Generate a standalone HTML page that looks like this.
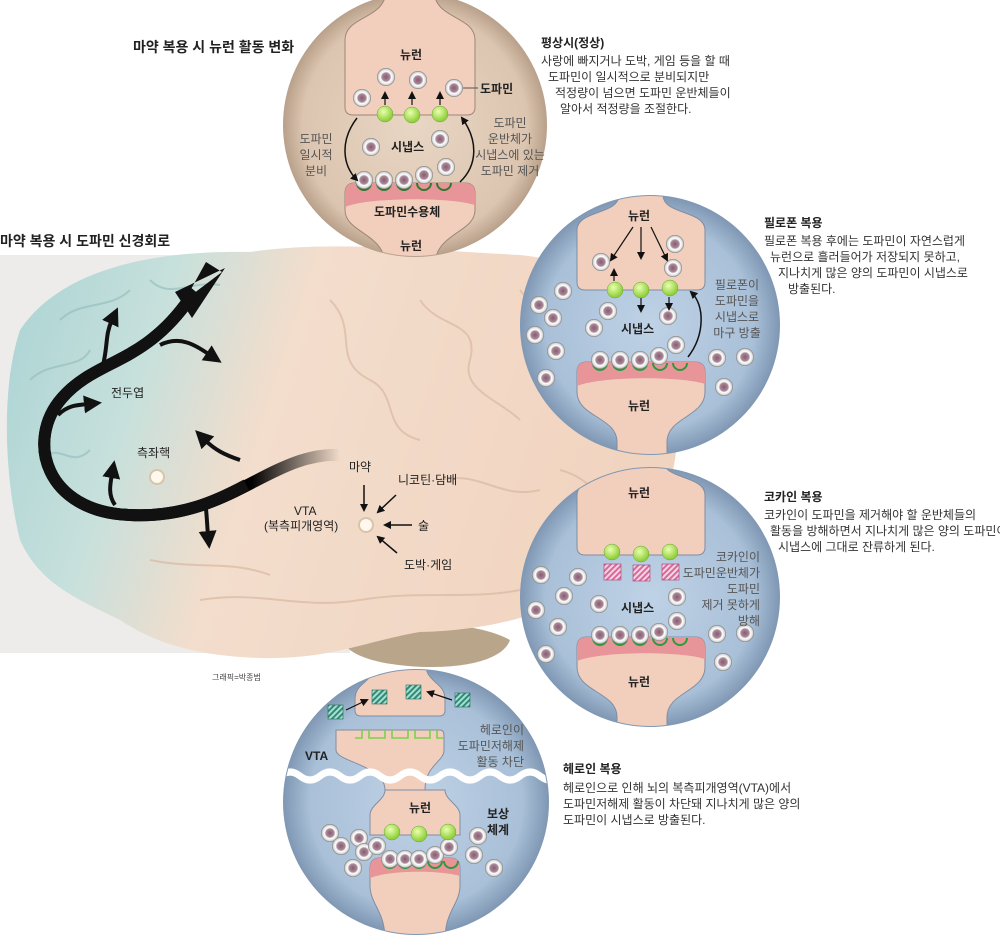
<!DOCTYPE html>
<html><head><meta charset="utf-8"><style>
html,body{margin:0;padding:0;background:#fff;}
svg{display:block;font-family:"Liberation Sans","Noto Sans CJK KR",sans-serif;}
.t{font-size:12px;fill:#333;}
.b{font-weight:bold;fill:#222;}
.g{font-size:12px;fill:#555;}
</style></head><body>
<svg width="1000" height="937" viewBox="0 0 1000 937" xmlns="http://www.w3.org/2000/svg">
<defs>
<radialGradient id="ves" cx="50%" cy="50%" r="50%">
<stop offset="0" stop-color="#8a5a70"/><stop offset="0.45" stop-color="#a88a98"/><stop offset="0.6" stop-color="#fff"/><stop offset="0.85" stop-color="#ddd"/><stop offset="1" stop-color="#777"/></radialGradient>
<radialGradient id="grn" cx="40%" cy="35%" r="60%"><stop offset="0" stop-color="#eaffb0"/><stop offset="1" stop-color="#8fcf3a"/></radialGradient>
<radialGradient id="blue" cx="50%" cy="50%" r="50%"><stop offset="0" stop-color="#bfd2e6"/><stop offset="0.8" stop-color="#a9c0d8"/><stop offset="1" stop-color="#7f97b3"/></radialGradient>
<radialGradient id="beige" cx="50%" cy="50%" r="50%"><stop offset="0" stop-color="#e8d6c4"/><stop offset="0.85" stop-color="#dcc5b0"/><stop offset="1" stop-color="#b8a08a"/></radialGradient>
<linearGradient id="brain" x1="0" y1="0" x2="1" y2="0.2"><stop offset="0" stop-color="#a9d3d3"/><stop offset="0.25" stop-color="#c7e0dc"/><stop offset="0.45" stop-color="#f3ddcc"/><stop offset="1" stop-color="#f1d4c0"/></linearGradient>
<linearGradient id="fade" x1="1" y1="0" x2="0" y2="0"><stop offset="0" stop-color="#000" stop-opacity="0"/><stop offset="0.3" stop-color="#000"/><stop offset="1" stop-color="#000"/></linearGradient>
<pattern id="hatchP" width="4" height="4" patternUnits="userSpaceOnUse" patternTransform="rotate(45)"><rect width="4" height="4" fill="#d76a9a"/><rect width="2" height="4" fill="#f5d5e4"/></pattern>
<pattern id="hatchG" width="4" height="4" patternUnits="userSpaceOnUse" patternTransform="rotate(45)"><rect width="4" height="4" fill="#2f8a7a"/><rect width="2" height="4" fill="#a8e0cf"/></pattern>
<g id="v"><circle r="9" fill="url(#ves)"/></g>
<g id="gb"><circle r="8" fill="url(#grn)" stroke="#6fa43a" stroke-width="0.5"/></g>
<marker id="ah" markerWidth="8" markerHeight="8" refX="6" refY="4" orient="auto" markerUnits="userSpaceOnUse"><path d="M0,0 L8,4 L0,8 Z" fill="#111"/></marker>
<marker id="bh" markerWidth="18" markerHeight="18" refX="4" refY="9" orient="auto" markerUnits="userSpaceOnUse"><path d="M0,0 L18,9 L0,18 Z" fill="#111"/></marker>
<clipPath id="c1"><circle cx="415" cy="125" r="131"/></clipPath>
<clipPath id="c2"><circle cx="650" cy="325" r="129"/></clipPath>
<clipPath id="c3"><circle cx="650" cy="597" r="129"/></clipPath>
<clipPath id="c4"><circle cx="416" cy="802" r="132"/></clipPath>
</defs>

<!-- brain background -->
<rect x="0" y="255" width="350" height="398" fill="#eeeceb"/>
<path d="M340,630 C380,620 470,618 510,640 C500,668 430,672 380,662 C350,655 340,645 340,630Z" fill="#b9a58a"/>
<path d="M20,330 C60,270 150,250 250,252 C330,240 420,250 520,255 C600,262 660,320 672,390 C690,460 660,540 600,580 C560,610 500,630 420,632 C370,640 330,660 260,658 C190,656 150,640 120,620 C80,600 40,585 20,540 C5,480 0,390 20,330Z" fill="url(#brain)"/>
<g fill="none" stroke="#d9b9a3" stroke-width="2" opacity="0.7">
<path d="M330,300 C360,330 330,360 370,380 C400,395 380,430 420,440"/>
<path d="M420,300 C440,330 480,320 470,360 C460,390 500,400 520,420"/>
<path d="M520,290 C540,320 580,310 590,350 C600,380 620,400 640,430"/>
<path d="M560,470 C600,480 620,520 600,560"/>
<path d="M200,600 C260,590 300,610 360,600 C420,590 470,600 520,590"/>
<path d="M150,560 C200,570 230,560 270,575"/>
<path d="M440,480 C480,470 500,500 540,490"/>
</g>
<g fill="none" stroke="#8fbcbc" stroke-width="2" opacity="0.6">
<path d="M60,320 C80,300 110,310 130,290"/><path d="M30,380 C50,360 80,370 90,350"/><path d="M40,460 C60,440 70,470 90,450"/><path d="M150,280 C170,300 190,280 220,285"/>
</g>
<!-- dopamine pathway -->
<path d="M340,455 C270,452 230,520 130,515 C45,512 25,440 62,398 C95,360 140,365 185,305 L196,292" fill="none" stroke="url(#fade)" stroke-width="12"/>
<path d="M330,455 C270,452 230,520 130,515 C45,512 25,440 62,398 C95,360 140,365 185,305 L196,292" fill="none" stroke="#111" stroke-width="12" stroke-dasharray="0 90 2000"/>
<path d="M185,300 L222,272 L206,262 Z M175,292 L225,268 L192,318 Z" fill="#111"/>
<g fill="none" stroke="#111" stroke-width="4" marker-end="url(#bh)">
<path d="M103,365 C108,345 105,335 112,320"/>
<path d="M160,345 C180,335 195,345 210,355"/>
<path d="M58,415 C68,405 78,405 88,404"/>
<path d="M115,505 C108,495 110,485 112,474"/>
<path d="M240,460 C225,455 215,450 205,440"/>
<path d="M205,500 C207,515 207,525 208,535"/>
</g>
<circle cx="157" cy="477" r="7" fill="#fff8ee" stroke="#d8c4a8" stroke-width="2"/>
<circle cx="366" cy="525" r="7" fill="#fff8ee" stroke="#d8c4a8" stroke-width="2"/>
<g stroke="#111" stroke-width="1.5" fill="none" marker-end="url(#ah)">
<path d="M364,485 L364,510"/><path d="M396,495 L378,512"/><path d="M412,525 L385,525"/><path d="M397,553 L378,537"/>
</g>
<text x="0" y="246" font-size="14" class="b">마약 복용 시 도파민 신경회로</text>
<text x="111" y="397" font-size="12" fill="#222">전두엽</text>
<text x="137" y="457" font-size="12" fill="#222">측좌핵</text>
<text x="349" y="471" font-size="12" fill="#222">마약</text>
<text x="398" y="484" font-size="12" fill="#222">니코틴·담배</text>
<text x="294" y="515" font-size="12" fill="#222">VTA</text>
<text x="264" y="530" font-size="12" fill="#222">(복측피개영역)</text>
<text x="418" y="530" font-size="12" fill="#222">술</text>
<text x="404" y="569" font-size="12" fill="#222">도박·게임</text>
<text x="212" y="680" font-size="8" fill="#444">그래픽=박종범</text>

<!-- Circle 1 normal -->
<circle cx="415" cy="125" r="132" fill="url(#beige)"/>
<g clip-path="url(#c1)">
<g transform="translate(410,115)">
<path d="M-24,-170 L-24,-125 C-24,-95 -65,-100 -65,-75 L-65,-8 Q-65,0 -57,0 L57,0 Q65,0 65,-8 L65,-75 C65,-100 24,-95 24,-125 L24,-170Z" fill="#f2cfbd" stroke="#9c8778"/>
<path d="M-65,78 Q-65,68 -55,68 L55,68 Q65,68 65,78 L65,95 C65,118 25,118 25,150 L25,200 L-25,200 L-25,150 C-25,118 -65,118 -65,95Z" fill="#f2cfbd" stroke="#9c8778"/>
<path d="M-65,78 Q-65,68 -55,68 L55,68 Q65,68 65,78 L65,90 C40,82 -40,82 -65,92Z" fill="#e8959a"/>
</g>
</g>
<g fill="none" stroke="#2e7a2e" stroke-width="2"><path d="M357,183 a7,7 0 0 0 14,0 M377,183 a7,7 0 0 0 14,0 M397,183 a7,7 0 0 0 14,0 M417,183 a7,7 0 0 0 14,0 M437,183 a7,7 0 0 0 14,0"/></g>
<use href="#v" x="364" y="180"/><use href="#v" x="384" y="180"/><use href="#v" x="404" y="180"/><use href="#v" x="424" y="175"/>
<use href="#v" x="386" y="77"/><use href="#v" x="418" y="80"/><use href="#v" x="454" y="88"/><use href="#v" x="362" y="98"/>
<use href="#v" x="371" y="147"/><use href="#v" x="440" y="139"/><use href="#v" x="446" y="167"/>
<use href="#gb" x="385" y="114"/><use href="#gb" x="412" y="115"/><use href="#gb" x="440" y="114"/>
<g stroke="#111" stroke-width="1.2" marker-end="url(#ah)"><path d="M385,105 L385,93"/><path d="M412,105 L412,93"/><path d="M440,105 L440,93"/></g>
<path d="M463,88 L478,88" stroke="#555"/>
<g fill="none" stroke="#111" stroke-width="1.5" marker-end="url(#ah)"><path d="M357,118 C340,140 342,165 357,180"/><path d="M460,182 C478,165 478,140 462,118"/></g>
<text x="400" y="59" class="t b">뉴런</text>
<text x="480" y="93" class="t b">도파민</text>
<text x="391" y="151" class="t b">시냅스</text>
<text x="374" y="216" class="t b">도파민수용체</text>
<text x="400" y="250" class="t b">뉴런</text>
<g class="g" text-anchor="middle"><text x="316" y="143">도파민</text><text x="316" y="159">일시적</text><text x="316" y="175">분비</text></g>
<g class="g" text-anchor="middle"><text x="510" y="127">도파민</text><text x="510" y="143">운반체가</text><text x="510" y="159">시냅스에 있는</text><text x="510" y="175">도파민 제거</text></g>
<text x="133" y="52" font-size="14" class="b">마약 복용 시 뉴런 활동 변화</text>
<text x="541" y="47" class="t b">평상시(정상)</text>
<g class="t"><text x="541" y="65">사랑에 빠지거나 도박, 게임 등을 할 때</text><text x="548" y="81">도파민이 일시적으로 분비되지만</text><text x="555" y="97">적정량이 넘으면 도파민 운반체들이</text><text x="560" y="113">알아서 적정량을 조절한다.</text></g>

<!-- Circle 2 meth -->
<circle cx="650" cy="325" r="130" fill="url(#blue)"/>
<g clip-path="url(#c2)">
<g transform="translate(641,290)">
<path d="M-22,-110 L-22,-95 C-22,-75 -64,-80 -64,-60 L-64,-8 Q-64,0 -56,0 L56,0 Q64,0 64,-8 L64,-60 C64,-80 22,-75 22,-95 L22,-110Z" fill="#f2cfbd" stroke="#7f8ea3"/>
</g>
<g transform="translate(641,362)">
<path d="M-64,10 Q-64,0 -54,0 L54,0 Q64,0 64,10 L64,30 C64,55 26,55 26,80 L26,110 L-24,110 L-24,80 C-24,55 -64,55 -64,30Z" fill="#f2cfbd" stroke="#7f8ea3"/>
<path d="M-64,10 Q-64,0 -54,0 L54,0 Q64,0 64,10 L64,22 C40,14 -40,14 -64,24Z" fill="#e8959a"/>
</g>
</g>
<g fill="none" stroke="#2e9a3a" stroke-width="2"><path d="M593,363 a7,7 0 0 0 14,0 M613,363 a7,7 0 0 0 14,0 M633,363 a7,7 0 0 0 14,0 M653,363 a7,7 0 0 0 14,0 M673,363 a7,7 0 0 0 14,0"/></g>
<g><use href="#v" x="600" y="360"/><use href="#v" x="620" y="360"/><use href="#v" x="640" y="360"/><use href="#v" x="659" y="356"/>
<use href="#v" x="601" y="262"/><use href="#v" x="675" y="244"/><use href="#v" x="673" y="268"/>
<use href="#v" x="563" y="291"/><use href="#v" x="539" y="305"/><use href="#v" x="553" y="318"/><use href="#v" x="535" y="335"/><use href="#v" x="556" y="351"/><use href="#v" x="546" y="378"/><use href="#v" x="608" y="311"/><use href="#v" x="594" y="328"/><use href="#v" x="668" y="316"/><use href="#v" x="676" y="345"/><use href="#v" x="717" y="358"/><use href="#v" x="745" y="357"/><use href="#v" x="724" y="387"/></g>
<use href="#gb" x="615" y="290"/><use href="#gb" x="641" y="290"/><use href="#gb" x="670" y="288"/>
<g stroke="#111" stroke-width="1.2" marker-end="url(#ah)"><path d="M633,227 L611,260"/><path d="M641,227 L641,258"/><path d="M651,227 L667,260"/><path d="M614,281 L614,270"/><path d="M641,298 L641,311"/><path d="M669,297 L669,309"/></g>
<path d="M688,357 C705,335 705,305 691,292" fill="none" stroke="#111" stroke-width="1.5" marker-end="url(#ah)"/>
<text x="628" y="220" class="t b">뉴런</text>
<text x="621" y="333" class="t b">시냅스</text>
<text x="628" y="410" class="t b">뉴런</text>
<g class="g" text-anchor="middle"><text x="737" y="289">필로폰이</text><text x="737" y="305">도파민을</text><text x="737" y="321">시냅스로</text><text x="737" y="337">마구 방출</text></g>
<text x="764" y="227" class="t b">필로폰 복용</text>
<g class="t"><text x="764" y="245">필로폰 복용 후에는 도파민이 자연스럽게</text><text x="770" y="261">뉴런으로 흘러들어가 저장되지 못하고,</text><text x="778" y="277">지나치게 많은 양의 도파민이 시냅스로</text><text x="788" y="293">방출된다.</text></g>

<!-- Circle 3 cocaine -->
<circle cx="650" cy="597" r="130" fill="url(#blue)"/>
<g clip-path="url(#c3)">
<g transform="translate(641,555)">
<path d="M-22,-110 L-22,-95 C-22,-75 -64,-80 -64,-60 L-64,-8 Q-64,0 -56,0 L56,0 Q64,0 64,-8 L64,-60 C64,-80 22,-75 22,-95 L22,-110Z" fill="#f2cfbd" stroke="#7f8ea3"/>
</g>
<g transform="translate(641,637)">
<path d="M-64,10 Q-64,0 -54,0 L54,0 Q64,0 64,10 L64,30 C64,55 26,55 26,80 L26,110 L-24,110 L-24,80 C-24,55 -64,55 -64,30Z" fill="#f2cfbd" stroke="#7f8ea3"/>
<path d="M-64,10 Q-64,0 -54,0 L54,0 Q64,0 64,10 L64,22 C40,14 -40,14 -64,24Z" fill="#e8959a"/>
</g>
</g>
<g fill="none" stroke="#2e9a3a" stroke-width="2"><path d="M593,638 a7,7 0 0 0 14,0 M613,638 a7,7 0 0 0 14,0 M633,638 a7,7 0 0 0 14,0 M653,638 a7,7 0 0 0 14,0 M673,638 a7,7 0 0 0 14,0"/></g>
<g><use href="#v" x="600" y="635"/><use href="#v" x="620" y="635"/><use href="#v" x="640" y="635"/><use href="#v" x="659" y="632"/>
<use href="#v" x="541" y="575"/><use href="#v" x="578" y="577"/><use href="#v" x="564" y="596"/><use href="#v" x="536" y="610"/><use href="#v" x="558" y="627"/><use href="#v" x="546" y="654"/><use href="#v" x="599" y="604"/><use href="#v" x="677" y="597"/><use href="#v" x="677" y="621"/><use href="#v" x="717" y="634"/><use href="#v" x="745" y="633"/><use href="#v" x="723" y="662"/></g>
<use href="#gb" x="612" y="552"/><use href="#gb" x="641" y="554"/><use href="#gb" x="670" y="552"/>
<rect x="604" y="564" width="17" height="16" fill="url(#hatchP)" stroke="#a04070" stroke-width="0.6"/><rect x="633" y="565" width="17" height="16" fill="url(#hatchP)" stroke="#a04070" stroke-width="0.6"/><rect x="662" y="564" width="17" height="16" fill="url(#hatchP)" stroke="#a04070" stroke-width="0.6"/>
<text x="628" y="497" class="t b">뉴런</text>
<text x="621" y="612" class="t b">시냅스</text>
<text x="628" y="686" class="t b">뉴런</text>
<g class="g" text-anchor="end"><text x="760" y="561">코카인이</text><text x="760" y="577">도파민운반체가</text><text x="760" y="593">도파민</text><text x="760" y="609">제거 못하게</text><text x="760" y="625">방해</text></g>
<text x="764" y="501" class="t b">코카인 복용</text>
<g class="t"><text x="764" y="519">코카인이 도파민을 제거해야 할 운반체들의</text><text x="770" y="535">활동을 방해하면서 지나치게 많은 양의 도파민이</text><text x="778" y="551">시냅스에 그대로 잔류하게 된다.</text></g>

<!-- Circle 4 heroin -->
<circle cx="416" cy="802" r="133" fill="url(#blue)"/>
<g clip-path="url(#c4)">
<path d="M375,660 C375,685 355,680 355,700 L355,710 Q355,716 361,716 L439,716 Q445,716 445,710 L445,700 C445,680 425,685 425,660Z" fill="#f2cfbd" stroke="#7f8ea3"/>
<path d="M336,730 L440,730 Q444,730 444,736 L444,750 C444,762 425,765 425,790 L385,790 C385,765 336,762 336,750Z" fill="#f2cfbd" stroke="#7f8ea3"/>
<path d="M355,738 L362,738 L362,730 M369,730 L369,738 L385,738 L385,730 M392,730 L392,738 L408,738 L408,730 M415,730 L415,738 L430,738 L430,730 M437,730 L437,738 L444,738" fill="none" stroke="#7cd04a" stroke-width="1.6"/>
<path d="M385,790 C385,800 370,805 370,815 L370,835 L460,835 L460,815 C460,805 445,800 445,790Z" fill="#f2cfbd" stroke="#7f8ea3"/>
<path d="M370,868 Q370,858 380,858 L450,858 Q460,858 460,868 L460,885 C460,905 445,910 445,940 L385,940 C385,910 370,905 370,885Z" fill="#f2cfbd" stroke="#7f8ea3"/>
<path d="M370,868 Q370,858 380,858 L450,858 Q460,858 460,868 L460,876 C440,870 390,870 370,878Z" fill="#e8959a"/>
<path d="M280,776 q10,-8 20,0 t20,0 t20,0 t20,0 t20,0 t20,0 t20,0 t20,0 t20,0 t20,0 t20,0 t20,0 t20,0 t20,0 L560,772" fill="none" stroke="#fff" stroke-width="7"/>
</g>
<g fill="none" stroke="#2e9a3a" stroke-width="2"><path d="M383,861 a7,7 0 0 0 14,0 M398,861 a7,7 0 0 0 14,0 M412,861 a7,7 0 0 0 14,0 M428,861 a7,7 0 0 0 14,0 M444,861 a7,7 0 0 0 14,0"/></g>
<rect x="328" y="705" width="15" height="14" fill="url(#hatchG)" stroke="#2a6a5a" stroke-width="0.6"/>
<rect x="372" y="690" width="15" height="14" fill="url(#hatchG)" stroke="#2a6a5a" stroke-width="0.6"/>
<rect x="406" y="685" width="15" height="14" fill="url(#hatchG)" stroke="#2a6a5a" stroke-width="0.6"/>
<rect x="455" y="693" width="15" height="14" fill="url(#hatchG)" stroke="#2a6a5a" stroke-width="0.6"/>
<g stroke="#111" stroke-width="1.2" marker-end="url(#ah)"><path d="M346,710 L367,700"/><path d="M452,700 L428,692"/></g>
<g><use href="#v" x="390" y="859"/><use href="#v" x="405" y="859"/><use href="#v" x="419" y="859"/><use href="#v" x="435" y="855"/>
<use href="#v" x="330" y="833"/><use href="#v" x="341" y="846"/><use href="#v" x="359" y="838"/><use href="#v" x="364" y="852"/><use href="#v" x="377" y="846"/><use href="#v" x="353" y="868"/><use href="#v" x="449" y="847"/><use href="#v" x="478" y="836"/><use href="#v" x="474" y="855"/><use href="#v" x="494" y="868"/></g>
<use href="#gb" x="392" y="832"/><use href="#gb" x="419" y="834"/><use href="#gb" x="448" y="832"/>
<text x="409" y="812" class="t b">뉴런</text>
<text x="305" y="760" class="t b">VTA</text>
<g class="t b" text-anchor="middle"><text x="498" y="818">보상</text><text x="498" y="834">체계</text></g>
<g class="g" text-anchor="end"><text x="524" y="734">헤로인이</text><text x="524" y="750">도파민저해제</text><text x="524" y="766">활동 차단</text></g>
<text x="563" y="773" class="t b">헤로인 복용</text>
<g class="t"><text x="563" y="792">헤로인으로 인해 뇌의 복측피개영역(VTA)에서</text><text x="563" y="808">도파민저해제 활동이 차단돼 지나치게 많은 양의</text><text x="563" y="824">도파민이 시냅스로 방출된다.</text></g>
</svg>
</body></html>
